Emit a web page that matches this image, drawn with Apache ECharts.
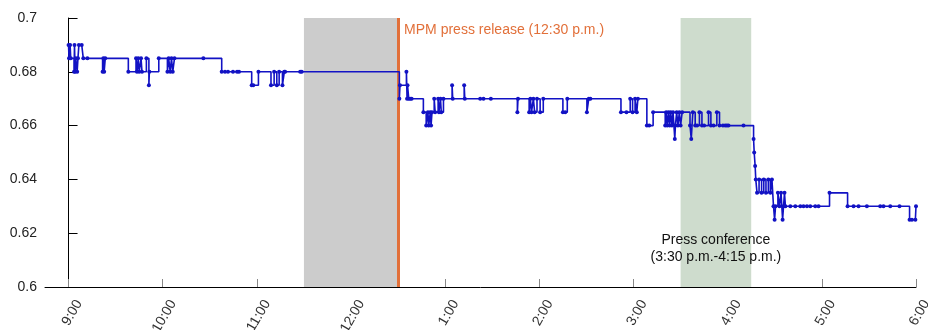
<!DOCTYPE html>
<html>
<head>
<meta charset="utf-8">
<script src="https://cdn.jsdelivr.net/npm/echarts@6/dist/echarts.min.js"></script>
<style>
html,body{margin:0;padding:0;background:#fff;}
#chart{width:928px;height:330px;}
</style>
</head>
<body>
<div id="chart"></div>
<script>
// Trade times in minutes after 9:00 a.m., and trade prices
const morningMinutes = [0,0.3,1,1.4,3.5,3.8,4.2,4.6,5.5,6,6.6,8.4,9.4,12,
  21.7,22.2,22.7,23.4,
  38.1,43,43.6,44.4,45,46.2,46.8,49.6,51.2,51.5,57.5,
  63,63.8,64.8,65.6,66.4,67.5,
  85.9,
  97.6,99.7,101.6,104.8,107.4,108.6,
  116.7,117.7,121,
  129,131,132.7,134.2,136.3,137.5,138,147.6,148.6];
const morningPrices = [0.69,0.685,0.69,0.685,0.68,0.69,0.68,0.685,0.68,0.685,0.69,0.69,0.685,0.685,
  0.68,0.685,0.68,0.685,
  0.68,0.685,0.68,0.685,0.68,0.685,0.68,0.685,0.675,0.68,0.685,
  0.68,0.685,0.68,0.685,0.68,0.685,
  0.685,
  0.68,0.68,0.68,0.68,0.68,0.68,
  0.675,0.675,0.68,
  0.675,0.68,0.675,0.68,0.675,0.68,0.68,0.68,0.68];
const afternoonMinutes = [210.8,211.2,215.3,215.7,216,216.8,217.7,218.6,
  226.1,227.9,229,229.5,230.5,231,231.6,233,233.6,235.5,236,237,237.5,238.9,
  244.4,244.8,252.1,252.5,262.3,264.4,269.1,
  286,286.4,
  293.5,294.3,295,296.2,297,298.5,300.5,302.5,
  315,316.5,317.8,
  330.3,331.5,332.5,
  352,355.5,357.9,359.4,361,362.1,362.8,
  368.5,370,372.5];
const afternoonPrices = [0.67,0.675,0.68,0.67,0.675,0.67,0.67,0.67,
  0.665,0.66,0.665,0.66,0.665,0.66,0.665,0.67,0.665,0.67,0.665,0.67,0.665,0.67,
  0.675,0.67,0.675,0.67,0.67,0.67,0.67,
  0.665,0.67,
  0.665,0.67,0.665,0.67,0.665,0.67,0.665,0.67,
  0.665,0.665,0.67,
  0.665,0.67,0.67,
  0.665,0.665,0.67,0.665,0.67,0.665,0.67,
  0.66,0.66,0.665];
const lateMinutes = [380.2,380.8,381.5,382.3,383,383.7,384.5,385.2,386.3,386.7,387.5,388.3,389.2,390,391,
  396,396.8,397.8,399.3,400.5,402,403.6,405,407.8,409.3,411,413.1,414.8,417,418.4,419.5,420.5,430.1,
  436.5,436.9,437.5,437.9,438.7,440,441.6,443,444.4,445.9,447.2,448.2,
  449.2,449.9,450.5,452,453,454,455,455.6,456.2,456.8,
  459.9,463.1,466.3,468.3,470.5,472.6,475.8,477.9,
  484.9,496.4,500.2,503.4,508.7,517.2,519.3,523.6,529.5,
  535.9,537.4,539.6,540];
const latePrices = [0.66,0.665,0.66,0.665,0.66,0.665,0.66,0.665,0.655,0.66,0.665,0.66,0.665,0.66,0.665,
  0.66,0.655,0.665,0.66,0.66,0.665,0.66,0.66,0.665,0.66,0.66,0.665,0.66,0.66,0.66,0.66,0.66,0.66,
  0.655,0.65,0.645,0.64,0.635,0.64,0.635,0.64,0.635,0.64,0.635,0.64,
  0.63,0.625,0.63,0.635,0.63,0.635,0.625,0.63,0.635,0.63,
  0.63,0.63,0.63,0.63,0.63,0.63,0.63,0.63,
  0.635,0.63,0.63,0.63,0.63,0.63,0.63,0.63,0.63,
  0.625,0.625,0.625,0.63];

const xTickMinutes = [0,60,120,180,240,300,360,420,480,540];
const xTickLabels = ['9:00','10:00','11:00','12:00','1:00','2:00','3:00','4:00','5:00','6:00'];
const xRange = [-15, 540];
const yTicks = [0.6,0.62,0.64,0.66,0.68,0.7];
const releaseMinute = 210;            // 12:30 p.m.
const blackoutBand = [150, 210];      // 11:30 - 12:30
const conferenceBand = [390, 435];    // 3:30 - 4:15
const releaseText = 'MPM press release (12:30 p.m.)';
const conferenceText = 'Press conference\n(3:30 p.m.-4:15 p.m.)';

const allMinutes = morningMinutes.concat(afternoonMinutes, lateMinutes);
const allPrices = morningPrices.concat(afternoonPrices, latePrices);
const tradeData = allMinutes.map((m, i) => [m, allPrices[i]]);

const chart = echarts.init(document.getElementById('chart'), null, {renderer: 'canvas'});
const FONT = 'Liberation Sans, Arial, sans-serif';
chart.setOption({
  animation: false,
  grid: {left: 45, right: 12, top: 18, bottom: 43, outerBoundsMode: 'none', containLabel: false},
  xAxis: {
    type: 'value', min: xRange[0], max: xRange[1],
    axisLine: {show: true, lineStyle: {color: '#000', width: 1}},
    axisTick: {show: true, inside: true, length: 8, customValues: xTickMinutes, lineStyle: {color: '#888'}},
    axisLabel: {
      show: true, customValues: xTickMinutes, rotate: 60, fontSize: 14, fontFamily: FONT, color: '#333', margin: 8,
      lineHeight: 24, hideOverlap: false,
      formatter: v => '\n' + (xTickLabels[xTickMinutes.indexOf(v)] || '')
    },
    splitLine: {show: false}
  },
  yAxis: {
    type: 'value', min: yTicks[0], max: yTicks[yTicks.length - 1], interval: 0.02,
    axisLine: {show: true, lineStyle: {color: '#000', width: 1}},
    axisTick: {show: true, inside: true, length: 9, lineStyle: {color: '#000'}},
    axisLabel: {fontSize: 14, fontFamily: FONT, color: '#222', margin: 8,
      formatter: v => String(+v.toFixed(2))},
    splitLine: {show: false}
  },
  series: [
    {
      type: 'line', data: [], z: 1, silent: true,
      markArea: {
        silent: true,
        data: [
          [{xAxis: blackoutBand[0], itemStyle: {color: '#cccccc'}}, {xAxis: blackoutBand[1]}],
          [{xAxis: conferenceBand[0], itemStyle: {color: '#cedccd'}}, {xAxis: conferenceBand[1]}]
        ]
      },
      markLine: {
        silent: true, symbol: 'none',
        lineStyle: {color: '#e2703a', width: 3, type: 'solid'},
        label: {show: false},
        data: [{xAxis: releaseMinute}]
      },
      markPoint: {
        silent: true, symbol: 'circle', symbolSize: 0,
        data: [
          {coord: [releaseMinute, 0.7], label: {show: true, position: 'right', distance: 6, offset: [0, 12],
            formatter: releaseText, color: '#e2703a', fontSize: 14, fontFamily: FONT}},
          {coord: [(conferenceBand[0] + conferenceBand[1]) / 2, 0.6143], label: {show: true, position: 'inside',
            formatter: conferenceText, color: '#111', fontSize: 14, lineHeight: 17, fontFamily: FONT}}
        ]
      }
    },
    {
      type: 'line', step: 'end', data: tradeData, z: 5,
      symbol: 'circle', symbolSize: 4, showSymbol: true, showAllSymbol: true,
      lineStyle: {color: '#1212c4', width: 1.6},
      itemStyle: {color: '#1212c4'},
      emphasis: {disabled: true}
    }
  ]
});
</script>
</body>
</html>
